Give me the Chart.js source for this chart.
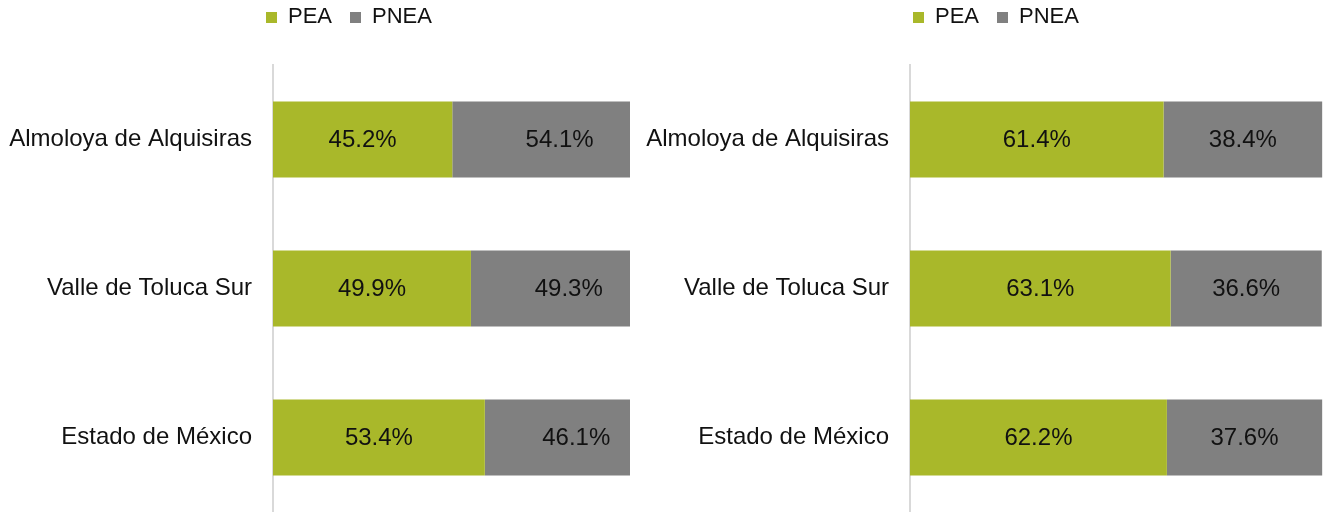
<!DOCTYPE html>
<html>
<head>
<meta charset="utf-8">
<script src="https://cdn.jsdelivr.net/npm/chart.js@4.4.1/dist/chart.umd.min.js"></script>
<style>
  body { margin: 0; background: #fff; font-family: "Liberation Sans", Arial, sans-serif; }
  #wrap { position: relative; width: 1327px; height: 512px; overflow: hidden; }
  canvas { position: absolute; top: 0; }
  .legend { position: absolute; top: 3px; display: flex; align-items: center; font-size: 22px; color: #111; }
  .legend span.sq { display: inline-block; width: 11px; height: 11px; margin-right: 11px; margin-top: 2px; }
  .legend span.item { display: flex; align-items: center; margin-right: 18px; }
</style>
</head>
<body>
<div id="wrap">
  <canvas id="leftChart" width="640" height="512" style="left:0"></canvas>
  <canvas id="rightChart" width="687" height="512" style="left:640px"></canvas>
  <div class="legend" id="leftLegend" style="left:266px"></div>
  <div class="legend" id="rightLegend" style="left:913px"></div>
</div>
<script>
// data
const categories = ['Almoloya de Alquisiras', 'Valle de Toluca Sur', 'Estado de México'];
const seriesNames = ['PEA', 'PNEA'];
const leftPEA = [45.2, 49.9, 53.4];
const leftPNEA = [54.1, 49.3, 46.1];
const rightPEA = [61.4, 63.1, 62.2];
const rightPNEA = [38.4, 36.6, 37.6];
const colors = ['#a9b82a', '#808080'];

// labels in the middle of each segment
const barLabels = {
    id: 'barLabels',
    afterDatasetsDraw(chart) {
        const ctx = chart.ctx;
        ctx.save();
        ctx.font = '24px "Liberation Sans", Arial, sans-serif';
        ctx.fillStyle = '#111';
        ctx.textAlign = 'center';
        ctx.textBaseline = 'middle';
        chart.data.datasets.forEach((ds, i) => {
            chart.getDatasetMeta(i).data.forEach((bar, j) => {
                const cx = (bar.x + bar.base) / 2;
                ctx.fillText(ds.data[j].toFixed(1) + '%', cx, bar.y + 1);
            });
        });
        ctx.restore();
    }
};

function makeChart(id, pea, pnea, xMax, yWidth, padRight) {
    const ctx = document.getElementById(id).getContext('2d');
    return new Chart(ctx, {
        type: 'bar',
        data: {
            labels: categories,
            datasets: [pea, pnea].map((vals, i) => ({
                label: seriesNames[i],
                data: vals,
                backgroundColor: colors[i],
                borderWidth: 0,
                barPercentage: 0.51,
                categoryPercentage: 1,
                clip: 0
            }))
        },
        options: {
            indexAxis: 'y',
            responsive: false,
            animation: false,
            layout: { padding: { top: 65, right: padRight, bottom: 0, left: 0 } },
            plugins: { legend: { display: false }, tooltip: { enabled: false } },
            scales: {
                x: { stacked: true, min: 0, max: xMax, display: false },
                y: {
                    stacked: true,
                    grid: { display: false, drawTicks: false },
                    border: { display: true, color: '#d9d9d9', width: 2 },
                    ticks: {
                        padding: 21,
                        color: '#111',
                        font: { family: '"Liberation Sans", Arial, sans-serif', size: 24 }
                    },
                    afterFit: scale => {
                        scale.width = yWidth;
                        // the axis runs down to the bottom edge
                        scale.paddingTop = 0;
                        scale.paddingBottom = 0;
                    }
                }
            }
        },
        plugins: [barLabels]
    });
}

function makeLegend(id) {
    const el = document.getElementById(id);
    seriesNames.forEach((name, i) => {
        const item = document.createElement('span');
        item.className = 'item';
        const sq = document.createElement('span');
        sq.className = 'sq';
        sq.style.background = colors[i];
        item.appendChild(sq);
        item.appendChild(document.createTextNode(name));
        el.appendChild(item);
    });
}

makeChart('leftChart', leftPEA, leftPNEA, 90, 273, 10);
makeChart('rightChart', rightPEA, rightPNEA, 100, 270, 4);
makeLegend('leftLegend');
makeLegend('rightLegend');
</script>
</body>
</html>
